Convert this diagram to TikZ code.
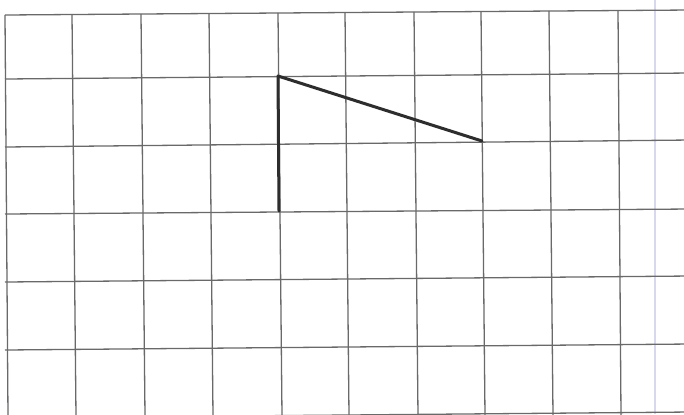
\documentclass[tikz,border=0pt]{standalone}
\begin{document}
\begin{tikzpicture}[x=0.5pt,y=-0.5pt,
  gridline/.style={draw={rgb,255:red,105;green,105;blue,105},line width=0.65pt},
  faintline/.style={draw={rgb,255:red,215;green,215;blue,238},line width=1.2pt},
  figline/.style={draw={rgb,255:red,45;green,45;blue,45},line width=1.5pt,line cap=round,line join=round}]
\useasboundingbox[fill=white] (0,0) rectangle (684,414);
\begin{scope}
\clip (0,0) rectangle (684,414);
% faint margin line
\draw[faintline] (655,0) -- (655,414);
% horizontal grid lines
\foreach \yl/\yr in {15/10,79/73,147/140,214/209,282/276,350/344,418/412}
  \draw[gridline] (5,\yl) -- (690,\yr);
% vertical grid lines
\foreach \xt/\xb in {5/8,72/76,141/145,209/213,278/282,345/349,414/418,481/485,549/553,618/621}
  \draw[gridline] (\xt,{15-(\xt-5)*0.0074}) -- (\xb,416);
\end{scope}
% figure
\coordinate (A) at (278,76);
\coordinate (B) at (482,141);
\coordinate (C) at (279,211);
\draw[figline] (B) -- (A) -- (C);
\end{tikzpicture}
\end{document}
